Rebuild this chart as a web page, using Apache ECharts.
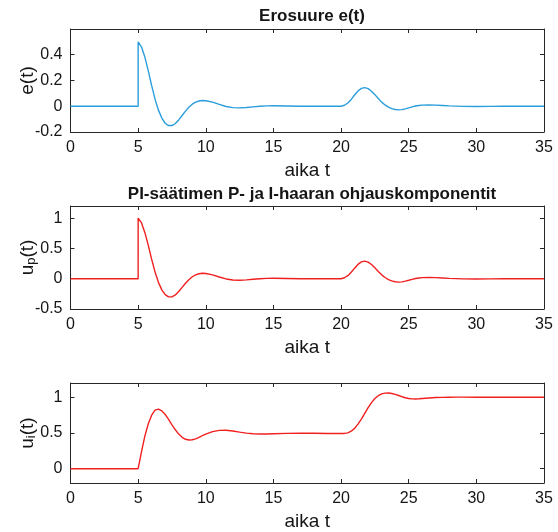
<!DOCTYPE html>
<html>
<head>
<meta charset="utf-8">
<script src="https://cdn.jsdelivr.net/npm/echarts@6/dist/echarts.min.js"></script>
<style>
html,body{margin:0;padding:0;background:#fff;}
#chart{width:558px;height:532px;}
</style>
</head>
<body>
<div id="chart"></div>
<script>
// time samples (duplicate 5 marks the step)
const tGrid = [0,5,5,5.25,5.5,5.75,6,6.25,6.5,6.75,7,7.25,7.5,7.75,8,8.25,8.5,8.75,9,9.25,9.5,9.75,10,
  10.5,11,11.5,12,12.5,13,13.5,14,14.5,15,16,17,18,19,20,
  20.25,20.5,20.75,21,21.25,21.5,21.75,22,22.25,22.5,22.75,23,23.25,23.5,23.75,24,24.25,24.5,24.75,25,25.25,25.5,25.75,26,
  26.5,27,27.5,28,28.5,29,30,31,32,33,34,35];
const eVals = [0,0,0.5,0.46,0.38,0.275,0.16,0.055,-0.03,-0.092,-0.132,-0.15,-0.15,-0.134,-0.106,-0.072,-0.038,-0.008,0.016,0.032,0.041,0.045,0.043,
  0.032,0.014,-0.002,-0.011,-0.013,-0.010,-0.005,0,0.003,0.004,0.002,0,0,0,0,
  0.008,0.025,0.053,0.087,0.118,0.139,0.145,0.137,0.117,0.090,0.060,0.032,0.010,-0.007,-0.018,-0.025,-0.028,-0.026,-0.020,-0.013,-0.005,0.002,0.006,0.009,
  0.010,0.009,0.006,0.003,0.001,-0.001,-0.002,-0.001,0,0,0,0];
const upVals = [0,0,1.0,0.92,0.76,0.55,0.32,0.11,-0.06,-0.184,-0.264,-0.30,-0.30,-0.268,-0.212,-0.144,-0.076,-0.016,0.032,0.064,0.082,0.09,0.086,
  0.064,0.028,-0.004,-0.022,-0.026,-0.020,-0.010,0,0.006,0.008,0.004,0,0,0,0,
  0.016,0.05,0.106,0.174,0.236,0.278,0.29,0.274,0.234,0.18,0.12,0.064,0.02,-0.014,-0.036,-0.05,-0.056,-0.052,-0.04,-0.026,-0.01,0.004,0.012,0.018,
  0.02,0.018,0.012,0.006,0.002,-0.002,-0.004,-0.002,0,0,0,0];
const uiVals = [0,0,0,0.24,0.46,0.63,0.75,0.82,0.835,0.81,0.76,0.69,0.615,0.545,0.485,0.44,0.412,0.402,0.405,0.418,0.44,0.462,0.485,
  0.52,0.537,0.538,0.528,0.512,0.498,0.489,0.486,0.487,0.49,0.495,0.497,0.496,0.494,0.493,
  0.494,0.502,0.525,0.565,0.625,0.695,0.775,0.855,0.925,0.982,1.022,1.047,1.058,1.06,1.053,1.04,1.025,1.008,0.993,0.983,0.978,0.977,0.979,0.983,
  0.99,0.996,0.999,1.001,1.002,1.002,1.001,1.0,1.0,1.0,1.0,1.0];

const xTicks = [0,5,10,15,20,25,30,35];
const yTicks1 = [-0.2,0,0.2,0.4];
const yTicks2 = [-0.5,0,0.5,1];
const yTicks3 = [0,0.5,1];
const titles = ['Erosuure e(t)', 'PI-säätimen P- ja I-haaran ohjauskomponentit'];
const xName = 'aika t';

const FONT = 'Liberation Sans, Arial, sans-serif';
const AX = '#262626';
const TXT = '#151515';

const grids = [
  {left:70.5, right:14, top:29, height:103},
  {left:70.5, right:14, top:206, height:103},
  {left:70.5, right:14, top:383, height:101}
];
const yRanges = [[-0.2,0.6],[-0.5,1.2],[-0.2,1.2]];
const yTickSets = [yTicks1,yTicks2,yTicks3];
const yNames = ['{a|e(t)}', '{a|u}{s|p}{a|(t)}', '{a|u}{s|i}{a|(t)}'];

const xAxes = [], yAxes = [];
grids.forEach((g, i) => {
  xAxes.push({
    gridIndex:i, type:'value', min:0, max:35, position:'bottom',
    axisLine:{onZero:false, lineStyle:{color:AX, width:1}},
    axisTick:{inside:true, length:4, customValues:xTicks, lineStyle:{color:AX}},
    axisLabel:{customValues:xTicks, fontSize:16, color:TXT, margin:8, fontFamily:FONT},
    splitLine:{show:false},
    name:xName, nameLocation:'middle', nameGap:29, nameMoveOverlap:false,
    nameTextStyle:{fontSize:19, color:TXT, fontFamily:FONT}
  });
  xAxes.push({
    gridIndex:i, type:'value', min:0, max:35, position:'top',
    axisLine:{onZero:false, lineStyle:{color:AX, width:1}},
    axisTick:{inside:true, length:4, customValues:xTicks, lineStyle:{color:AX}},
    axisLabel:{show:false}, splitLine:{show:false}
  });
  const ticks = yTickSets[i];
  yAxes.push({
    gridIndex:i, type:'value', min:yRanges[i][0], max:yRanges[i][1], position:'left',
    axisLine:{show:true, onZero:false, lineStyle:{color:AX, width:1}},
    axisTick:{show:true, inside:true, length:4, customValues:ticks, lineStyle:{color:AX}},
    axisLabel:{customValues:ticks, fontSize:16, color:TXT, margin:8, fontFamily:FONT,
      formatter: v => String(Math.round(v*10)/10)},
    splitLine:{show:false},
    name:yNames[i], nameLocation:'middle', nameGap:33, nameRotate:90, nameMoveOverlap:false,
    nameTextStyle:{fontSize:19, color:TXT, fontFamily:FONT,
      rich:{
        a:{fontSize:19, lineHeight:19, verticalAlign:'top', color:TXT, fontFamily:FONT},
        s:{fontSize:13, lineHeight:13, verticalAlign:'bottom', padding:[11,0,0,0], color:TXT, fontFamily:FONT}
      }}
  });
  yAxes.push({
    gridIndex:i, type:'value', min:yRanges[i][0], max:yRanges[i][1], position:'right',
    axisLine:{show:true, onZero:false, lineStyle:{color:AX, width:1}},
    axisTick:{show:true, inside:true, length:4, customValues:ticks, lineStyle:{color:AX}},
    axisLabel:{show:false}, splitLine:{show:false}
  });
});

const pairs = vals => tGrid.map((t, k) => [t, vals[k]]);
const mkSeries = (vals, gi, color) => ({
  type:'line', xAxisIndex:gi*2, yAxisIndex:gi*2, data:pairs(vals),
  showSymbol:false, symbol:'none', smooth:false, animation:false,
  lineStyle:{color:color, width:1.4}, clip:true
});

const option = {
  backgroundColor:'#fff',
  animation:false,
  title: titles.map((tx, i) => ({
    text:tx, left:307, top: i===0 ? 3 : 181, textAlign:'center',
    textStyle:{fontSize:17, fontWeight:'bold', color:TXT, fontFamily:FONT}
  })),
  grid: grids,
  xAxis: xAxes,
  yAxis: yAxes,
  series: [
    mkSeries(eVals, 0, '#2a9ddb'),
    mkSeries(upVals, 1, '#f02020'),
    mkSeries(uiVals, 2, '#f02020')
  ]
};
const chart = echarts.init(document.getElementById('chart'), null, {renderer:'canvas'});
chart.setOption(option);
</script>
</body>
</html>
